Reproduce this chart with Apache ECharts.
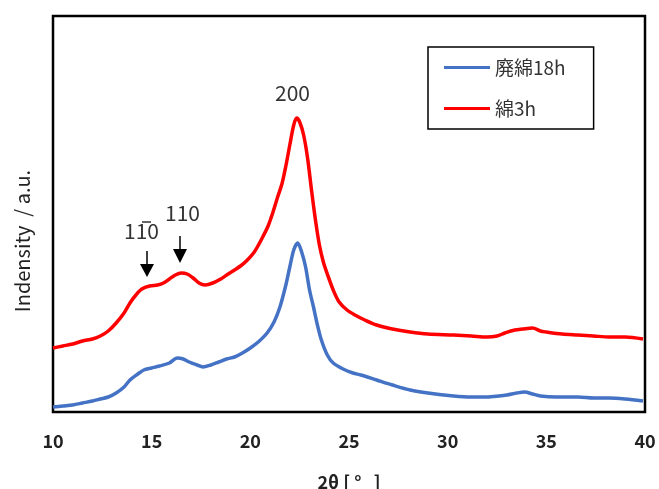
<!DOCTYPE html>
<html>
<head>
<meta charset="utf-8">
<script src="https://cdn.jsdelivr.net/npm/echarts@6/dist/echarts.min.js"></script>
<style>
html,body{margin:0;padding:0;background:#fff;}
#c{width:659px;height:489px;}
</style>
</head>
<body>
<div id="c"></div>
<script>
// 2θ positions (deg)
const xRed = [10.0,10.5,11.0,11.5,12.0,12.4,12.8,13.2,13.6,13.9,14.2,14.5,14.9,15.3,15.6,15.9,16.2,16.5,16.8,17.1,17.4,17.7,18.1,18.5,18.8,19.2,19.5,19.8,20.2,20.6,20.9,21.15,21.4,21.6,21.8,22.0,22.2,22.35,22.5,22.7,22.9,23.1,23.3,23.5,23.7,23.9,24.2,24.5,24.9,25.3,25.8,26.4,27.2,28.1,29.0,30.3,31.2,32.0,32.5,32.9,33.4,33.8,34.3,34.7,35.0,35.8,36.6,37.4,38.2,39.0,39.9];
const yRed = [64,66,68,71,73,76,81,89,99,109,117,123,126,127,129,133,137,139,138,134,129,127,129,133,137,142,146,151,160,174,186,200,216,228,246,267,287,294,290,277,254,222,192,167,150,138,122,110,102,97,92,87,83,80,78,77,76,75,76,79,82,83,84,81,80,78,77,76,75,75,73];
const xBlue = [10.0,10.5,11.0,11.5,12.0,12.4,12.8,13.2,13.6,13.9,14.3,14.6,15.0,15.4,15.9,16.3,16.6,16.9,17.3,17.6,18.0,18.4,18.8,19.2,19.6,20.0,20.4,20.85,21.2,21.5,21.8,22.0,22.2,22.4,22.6,22.8,23.0,23.2,23.4,23.6,23.9,24.2,24.7,25.2,25.6,26.4,27.2,28.1,29.0,30.3,31.2,32.0,32.6,33.0,33.5,33.9,34.3,34.7,35.5,36.6,37.4,38.2,39.0,39.9];
const yBlue = [5,6,7,9,11,13,15,19,25,32,38,42,44,46,49,54,53,50,47,45,47,50,53,55,59,64,70,79,90,105,127,145,162,169,160,145,122,105,87,72,57,49,43,39,37,32,27,22,19,16,15,15,16,17,19,20,18,16,15,15,14,14,13,11];
const seriesNames = ['廃綿18h','綿3h'];
const xTicks = [10,15,20,25,30,35,40];

const zip = (a,b)=>a.map((v,i)=>[v,b[i]]);
const FONT = '"Noto Sans CJK JP","Noto Sans",sans-serif';

const chart = echarts.init(document.getElementById('c'), null, {renderer:'canvas'});
chart.setOption({
  animation:false,
  backgroundColor:'#fff',
  grid:{left:53,right:14,top:16,bottom:77,show:true,borderColor:'#000',borderWidth:2.5,backgroundColor:'transparent',
    containLabel:false,outerBoundsMode:'none'},
  xAxis:{
    type:'value',min:10,max:40,interval:5,
    axisLine:{show:false},axisTick:{show:false},splitLine:{show:false},
    axisLabel:{color:'#222',fontSize:18,fontWeight:'bold',fontFamily:FONT,margin:20,
      formatter:v=>xTicks.includes(v)?String(v):''},
    name:'2θ [ °   ]',nameLocation:'middle',nameGap:61,
    nameTextStyle:{color:'#222',fontSize:18,fontWeight:'bold',fontFamily:FONT}
  },
  yAxis:{
    type:'value',min:0,max:396,
    axisLine:{show:false},axisTick:{show:false},splitLine:{show:false},axisLabel:{show:false}
  },
  legend:{
    orient:'vertical',left:428,top:47,
    padding:[11,28,11,16],itemGap:22,itemWidth:46,itemHeight:3,
    borderColor:'#000',borderWidth:1.5,backgroundColor:'#fff',
    icon:'rect',
    textStyle:{color:'#333',fontSize:19,fontFamily:FONT},
    data:seriesNames
  },
  series:[
    {name:seriesNames[0],type:'line',data:zip(xBlue,yBlue),showSymbol:false,smooth:0.3,
      lineStyle:{color:'#4472C4',width:3.5},itemStyle:{color:'#4472C4'}},
    {name:seriesNames[1],type:'line',data:zip(xRed,yRed),showSymbol:false,smooth:0.3,
      lineStyle:{color:'#FF0000',width:3.5},itemStyle:{color:'#FF0000'}}
  ],
  graphic:[
    {type:'text',x:22,y:241,rotation:Math.PI/2,
      style:{text:'Indensity  / a.u.',fill:'#222',font:'20px '+FONT,align:'center',verticalAlign:'middle'}},
    {type:'text',left:275,top:83,style:{text:'200',fill:'#333',font:'21px '+FONT}},
    {type:'text',left:124,top:221,style:{text:'110',fill:'#333',font:'21px '+FONT}},
    {type:'line',shape:{x1:142,y1:222,x2:151,y2:222},style:{stroke:'#333',lineWidth:1.5}},
    {type:'text',left:165,top:203,style:{text:'110',fill:'#333',font:'21px '+FONT}},
    {type:'line',shape:{x1:147,y1:251,x2:147,y2:266},style:{stroke:'#000',lineWidth:1.5}},
    {type:'polygon',shape:{points:[[140,264],[154,264],[147,277]]},style:{fill:'#000'}},
    {type:'line',shape:{x1:180,y1:236,x2:180,y2:251},style:{stroke:'#000',lineWidth:1.5}},
    {type:'polygon',shape:{points:[[173,249],[187,249],[180,263]]},style:{fill:'#000'}}
  ]
});
</script>
</body>
</html>
